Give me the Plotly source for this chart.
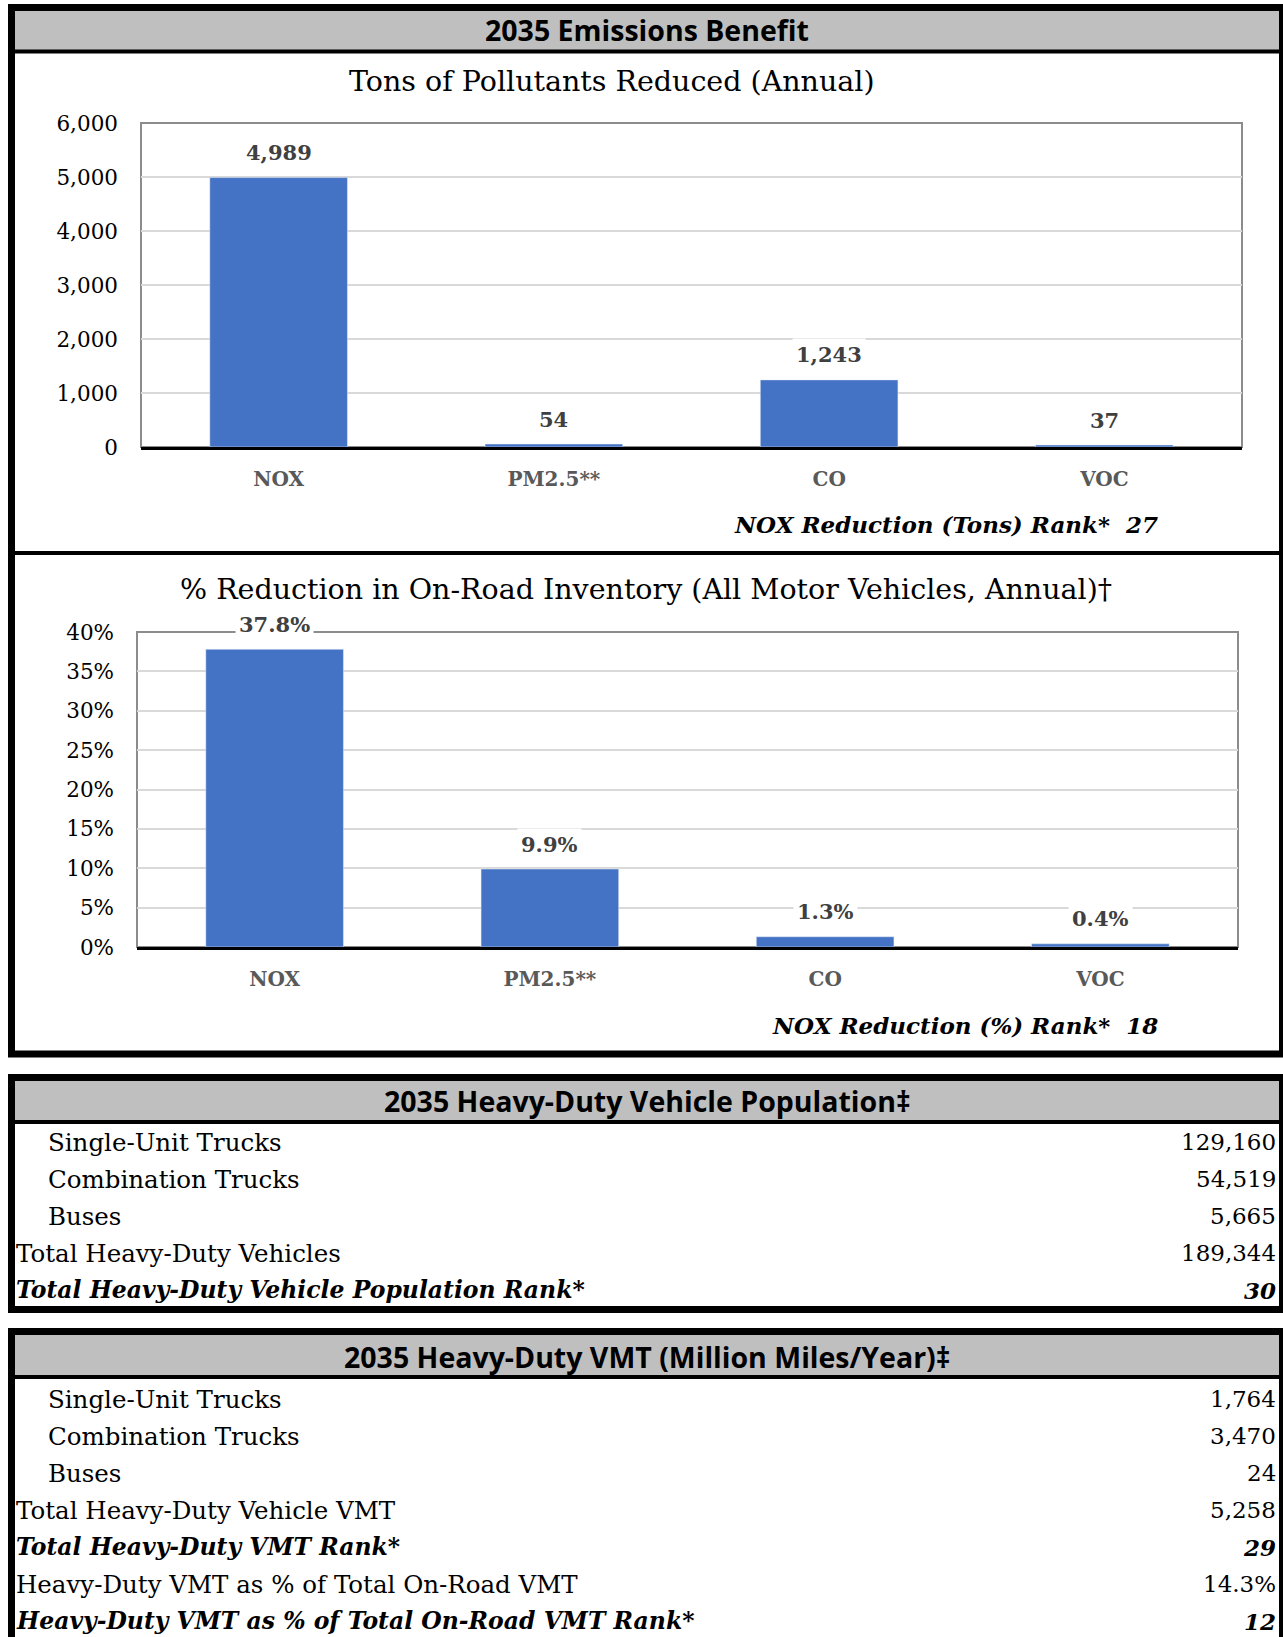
import plotly.graph_objects as go

W, H = 1283, 1637

# ---------------- data ----------------
categories = ["NOX", "PM2.5**", "CO", "VOC"]
tons_reduced = [4989, 54, 1243, 37]
pct_reduced = [37.8, 9.9, 1.3, 0.4]
tons_ticks = [0, 1000, 2000, 3000, 4000, 5000, 6000]
pct_ticks = [0, 5, 10, 15, 20, 25, 30, 35, 40]

main_title = "2035 Emissions Benefit"
chart1_title = "Tons of Pollutants Reduced (Annual)"
chart2_title = "% Reduction in On-Road Inventory (All Motor Vehicles, Annual)†"
rank1_label = "NOX Reduction (Tons) Rank*"
rank1_value = "27"
rank2_label = "NOX Reduction (%) Rank*"
rank2_value = "18"

pop_title = "2035 Heavy-Duty Vehicle Population‡"
pop_labels = ["Single-Unit Trucks", "Combination Trucks", "Buses",
              "Total Heavy-Duty Vehicles", "Total Heavy-Duty Vehicle Population Rank*"]
pop_values = ["129,160", "54,519", "5,665", "189,344", "30"]
pop_indent = [True, True, True, False, False]
pop_rank = [False, False, False, False, True]

vmt_title = "2035 Heavy-Duty VMT (Million Miles/Year)‡"
vmt_labels = ["Single-Unit Trucks", "Combination Trucks", "Buses",
              "Total Heavy-Duty Vehicle VMT", "Total Heavy-Duty VMT Rank*",
              "Heavy-Duty VMT as % of Total On-Road VMT",
              "Heavy-Duty VMT as % of Total On-Road VMT Rank*"]
vmt_values = ["1,764", "3,470", "24", "5,258", "29", "14.3%", "12"]
vmt_indent = [True, True, True, False, False, False, False]
vmt_rank = [False, False, False, False, True, False, True]

# ---------------- style ----------------
SERIF = "DejaVu Serif"
SANS = "Open Sans"
BAR = "#4472C4"
GRID = "#D9D9D9"
FRAME = "#8C8C8C"
HDR = "#BFBFBF"


def px(x):
    return x / W


def py(y):
    return 1 - y / H


fig = go.Figure()
fig.add_trace(go.Bar(x=categories, y=tons_reduced, marker_color=BAR,
                     xaxis="x", yaxis="y", showlegend=False, hoverinfo="skip"))
fig.add_trace(go.Bar(x=categories, y=pct_reduced, marker_color=BAR,
                     xaxis="x2", yaxis="y2", showlegend=False, hoverinfo="skip"))

shapes = []
annotations = []

# plot frames (gray box) for each chart, in paper coordinates
for (l, r, t, b) in ((141, 1242, 123, 447), (137, 1238, 632, 947)):
    shapes.append(dict(type="rect", xref="paper", yref="paper",
                       x0=px(l), x1=px(r), y0=py(b), y1=py(t),
                       line=dict(color=FRAME, width=2), layer="below"))

# data labels
for i, v in enumerate(tons_reduced):
    annotations.append(dict(x=categories[i], y=v, xref="x", yref="y", yshift=25,
                            text=f"<b>{v:,}</b>", showarrow=False, bgcolor="white",
                            borderpad=3,
                            font=dict(family=SERIF, size=21, color="#404040")))
for i, v in enumerate(pct_reduced):
    annotations.append(dict(x=categories[i], y=v, xref="x2", yref="y2", yshift=25,
                            text=f"<b>{v:.1f}%</b>", showarrow=False, bgcolor="white",
                            borderpad=3,
                            font=dict(family=SERIF, size=21, color="#404040")))


# ---- section boxes ----
def section_box(top, bottom, hdr_top, hdr_bot, line_y, border_w=7):
    shapes.append(dict(type="rect", xref="paper", yref="paper",
                       x0=px(15), x1=px(1283), y0=py(hdr_bot), y1=py(hdr_top),
                       fillcolor=HDR, line=dict(width=0), layer="below"))
    shapes.append(dict(type="line", xref="paper", yref="paper",
                       x0=px(11), x1=px(1283), y0=py(line_y), y1=py(line_y),
                       line=dict(color="black", width=4), layer="above"))
    shapes.append(dict(type="rect", xref="paper", yref="paper",
                       x0=px(11.5), x1=px(1282.5), y0=py(bottom), y1=py(top),
                       line=dict(color="black", width=border_w), layer="above"))


section_box(7.5, 1054, 11, 50, 51.5)
# divider between the two charts
shapes.append(dict(type="line", xref="paper", yref="paper",
                   x0=px(11), x1=px(1283), y0=py(553), y1=py(553),
                   line=dict(color="black", width=4), layer="above"))
section_box(1077.5, 1309.5, 1081, 1120, 1122)
section_box(1331.5, 1660, 1335, 1375, 1377)


def header(text, y):
    annotations.append(dict(x=px(647), y=py(y), xref="paper", yref="paper",
                            text=f"<b>{text}</b>", showarrow=False,
                            xanchor="center", yanchor="middle",
                            font=dict(family=SANS, size=28.5, color="black")))


header(main_title, 30)
header(pop_title, 1101)
header(vmt_title, 1357)

# chart titles
annotations.append(dict(x=px(612), y=py(81), xref="paper", yref="paper",
                        text=chart1_title, showarrow=False, yanchor="middle",
                        font=dict(family=SERIF, size=28.5, color="black")))
annotations.append(dict(x=px(646), y=py(589), xref="paper", yref="paper",
                        text=chart2_title, showarrow=False, yanchor="middle",
                        font=dict(family=SERIF, size=28.5, color="black")))

# rank lines under charts
for lab, val, y in ((rank1_label, rank1_value, 524), (rank2_label, rank2_value, 1025)):
    annotations.append(dict(x=px(1160), y=py(y), xref="paper", yref="paper",
                            text=f"<b><i>{lab}\u00a0\u00a0{val}</i></b>", showarrow=False,
                            xanchor="right", yanchor="middle",
                            font=dict(family=SERIF, size=23, color="black")))


# table rows
def table_rows(labels, values, indent, rank, y0, step):
    for i, (lab, val, ind, rk) in enumerate(zip(labels, values, indent, rank)):
        y = y0 + i * step
        t_lab = f"<b><i>{lab}</i></b>" if rk else lab
        t_val = f"<b><i>{val}</i></b>" if rk else val
        annotations.append(dict(x=px(46 if ind else 14), y=py(y), xref="paper", yref="paper",
                                text=t_lab, showarrow=False, xanchor="left", yanchor="middle",
                                font=dict(family=SERIF, size=23.5 if rk else 24.5,
                                          color="black")))
        annotations.append(dict(x=px(1278), y=py(y), xref="paper", yref="paper",
                                text=t_val, showarrow=False, xanchor="right", yanchor="middle",
                                font=dict(family=SERIF, size=23, color="black")))


table_rows(pop_labels, pop_values, pop_indent, pop_rank, 1142, 37)
table_rows(vmt_labels, vmt_values, vmt_indent, vmt_rank, 1399, 37)

xaxis_common = dict(showline=True, linecolor="black", linewidth=2.5, showgrid=False,
                    ticks="", ticklabelstandoff=12, type="category", automargin=False,
                    tickfont=dict(family=SERIF, size=20, color="#595959", weight="bold"))
yaxis_common = dict(showline=False, showgrid=True, gridcolor=GRID, gridwidth=1.5,
                    zeroline=False, ticks="", ticklabelstandoff=22, automargin=False,
                    tickfont=dict(family=SERIF, size=21.5, color="black"))

fig.update_layout(
    width=W, height=H, autosize=False,
    margin=dict(l=0, r=0, t=0, b=0, pad=0, autoexpand=False),
    paper_bgcolor="white", plot_bgcolor="white",
    bargap=0.5,
    showlegend=False,
    xaxis=dict(domain=[px(141), px(1242)], anchor="y", **xaxis_common),
    yaxis=dict(domain=[py(447), py(123)], anchor="x", range=[0, 6000],
               tickvals=tons_ticks, ticktext=[f"{v:,}" for v in tons_ticks],
               **yaxis_common),
    xaxis2=dict(domain=[px(137), px(1238)], anchor="y2", **xaxis_common),
    yaxis2=dict(domain=[py(947), py(632)], anchor="x2", range=[0, 40],
                tickvals=pct_ticks, ticktext=[f"{v}%" for v in pct_ticks],
                **yaxis_common),
    shapes=shapes,
    annotations=annotations,
)

fig.write_html("out.html", config={"displayModeBar": False},
               post_script="document.body.style.margin='0';")
